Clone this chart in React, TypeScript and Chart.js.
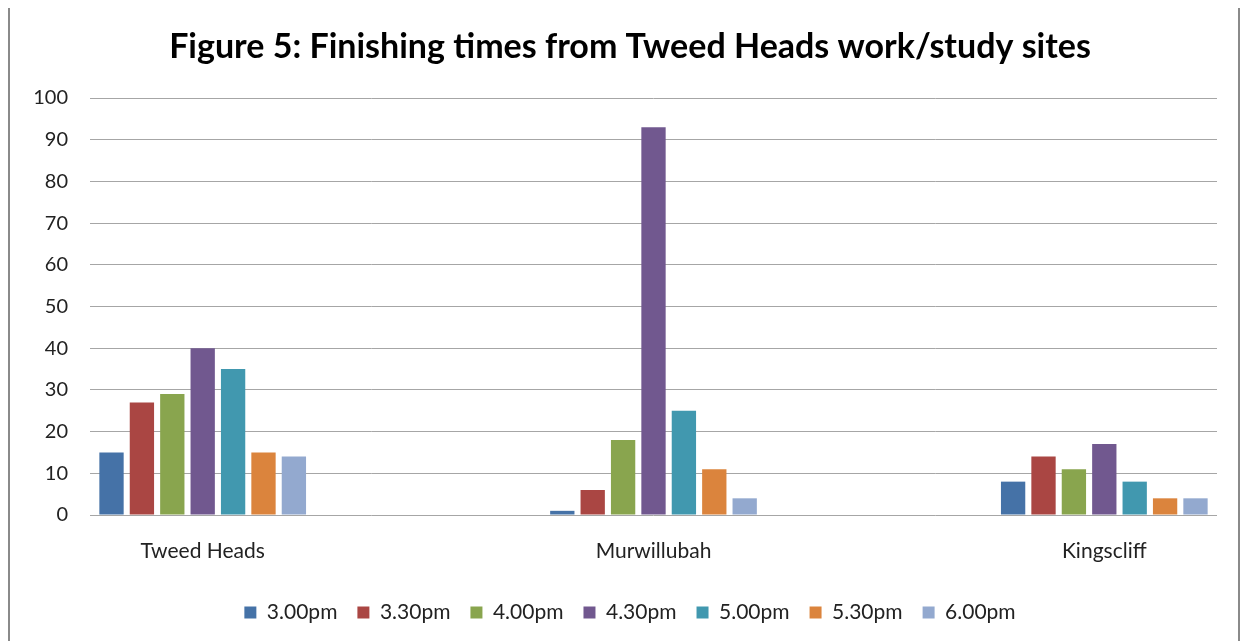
import React, { useEffect, useRef } from "react";
import { Chart, registerables } from "chart.js";

Chart.register(...registerables);

const categories = ["Tweed Heads", "Murwillubah", "Kingscliff"];
const seriesLabels = ["3.00pm", "3.30pm", "4.00pm", "4.30pm", "5.00pm", "5.30pm", "6.00pm"];
const s300 = [15, 1, 8];
const s330 = [27, 6, 14];
const s400 = [29, 18, 11];
const s430 = [40, 93, 17];
const s500 = [35, 25, 8];
const s530 = [15, 11, 4];
const s600 = [14, 4, 4];
const seriesValues = [s300, s330, s400, s430, s500, s530, s600];
const colors = ["#4572A7", "#AA4643", "#89A54E", "#71588F", "#4198AF", "#DB843D", "#93A9CF"];
const yTicks = [0, 10, 20, 30, 40, 50, 60, 70, 80, 90, 100];

const FONT = "Lato, 'Open Sans', sans-serif";

export default function App() {
  const ref = useRef<HTMLCanvasElement | null>(null);

  useEffect(() => {
    if (!ref.current) return;
    const chart = new Chart(ref.current, {
      type: "bar",
      data: {
        datasets: seriesLabels.map((label, i) => ({
          label,
          data: seriesValues[i].map((v, j) => ({ x: j, y: v })),
          backgroundColor: colors[i],
          borderWidth: 0,
          categoryPercentage: 0.472,
          barPercentage: 0.8,
        })),
      },
      options: {
        animation: false,
        responsive: true,
        maintainAspectRatio: false,
        layout: { padding: { left: 12, right: 0, top: 0, bottom: 10 } },
        plugins: {
          title: {
            display: true,
            text: "Figure 5: Finishing times from Tweed Heads work/study sites",
            color: "#000",
            font: { family: FONT, size: 34, weight: "bold" },
            padding: { top: 19.5, bottom: 30.7 },
          },
          legend: {
            position: "bottom",
            labels: {
              color: "#222",
              font: { family: FONT, size: 21 },
              boxWidth: 12,
              boxHeight: 12,
              padding: 20,
            },
          },
          tooltip: { enabled: false },
        },
        scales: {
          x: {
            type: "linear",
            offset: false,
            min: -0.25,
            max: 2.25,
            grid: { display: false, drawTicks: false },
            border: { display: false },
            afterBuildTicks: (scale: any) => {
              scale.ticks = categories.map((_, i) => ({ value: i }));
            },
            afterFit: (scale: any) => {
              scale.height = 67;
            },
            ticks: {
              autoSkip: false,
              maxRotation: 0,
              padding: 24,
              color: "#222",
              font: { family: FONT, size: 21 },
              callback: (v: any) => categories[v] ?? "",
            },
          },
          y: {
            min: 0,
            max: 100,
            afterBuildTicks: (scale: any) => {
              scale.ticks = yTicks.map((v) => ({ value: v }));
            },
            afterFit: (scale: any) => {
              scale.width = 68;
            },
            grid: { color: "#a6a6a6", lineWidth: 1, drawTicks: false },
            border: { display: false },
            ticks: {
              padding: 22,
              color: "#222",
              font: { family: FONT, size: 20 },
            },
          },
          yRight: {
            position: "right",
            display: true,
            min: 0,
            max: 100,
            grid: { display: false, drawTicks: false },
            border: { display: false },
            ticks: { display: false },
            afterFit: (scale: any) => {
              scale.width = 21;
            },
          },
        },
      },
    });
    return () => chart.destroy();
  }, []);

  return (
    <div
      style={{
        marginTop: -3,
        height: 640,
        border: "2px solid #8a8a8a",
        boxSizing: "border-box",
        background: "#fff",
      }}
    >
      <div style={{ position: "relative", width: "100%", height: "100%" }}>
        <canvas ref={ref} />
      </div>
    </div>
  );
}
